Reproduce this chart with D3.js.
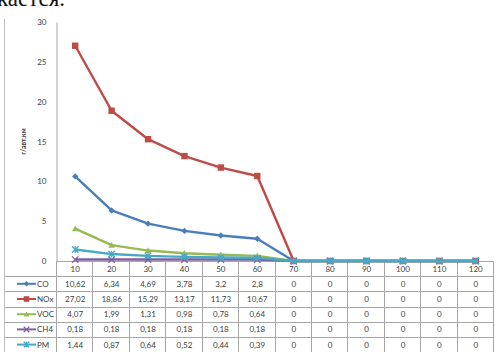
<!DOCTYPE html>
<html>
<head>
<meta charset="utf-8">
<script src="https://cdn.jsdelivr.net/npm/d3@7"></script>
<style>
  html, body { margin: 0; padding: 0; background: #fff; }
  svg { display: block; }
</style>
</head>
<body>
<svg id="chart" width="496" height="352"></svg>
<script>
// Speed categories (km/h) and emission factors, г/авт.км
const categories = [10, 20, 30, 40, 50, 60, 70, 80, 90, 100, 110, 120];
const seriesNames = ["CO", "NOx", "VOC", "CH4", "PM"];
const coValues  = [10.62, 6.34, 4.69, 3.78, 3.2, 2.8, 0, 0, 0, 0, 0, 0];
const noxValues = [27.02, 18.86, 15.29, 13.17, 11.73, 10.67, 0, 0, 0, 0, 0, 0];
const vocValues = [4.07, 1.99, 1.31, 0.98, 0.78, 0.64, 0, 0, 0, 0, 0, 0];
const ch4Values = [0.18, 0.18, 0.18, 0.18, 0.18, 0.18, 0, 0, 0, 0, 0, 0];
const pmValues  = [1.44, 0.87, 0.64, 0.52, 0.44, 0.39, 0, 0, 0, 0, 0, 0];
const yTicks = [0, 5, 10, 15, 20, 25, 30];
const yTitle = "г/авт.км";
const headText = "кается.";

const colors = ["#4a7ebb", "#be4b48", "#98b954", "#7d60a0", "#46aac5"];
const markers = ["diamond", "square", "triangle", "cross", "star"];
const seriesValues = [coValues, noxValues, vocValues, ch4Values, pmValues];

const series = seriesNames.map((name, i) => ({
  name, color: colors[i], marker: markers[i], values: seriesValues[i]
}));

const svg = d3.select("#chart");
const font = "Lato, 'Open Sans', sans-serif";
const textColor = "#404040";
const gridColor = "#a6a6a6";

// heading text of the page, clipped by the top edge
svg.append("text")
  .attr("x", -3).attr("y", 6)
  .attr("font-family", "'Liberation Serif', 'DejaVu Serif', serif")
  .attr("font-size", 23)
  .attr("fill", "#111")
  .text(headText);

const plot = { left: 57, right: 494, top: 22, bottom: 261 };
const frameLeft = 4.5;

const x = d3.scaleBand().domain(categories).range([plot.left, plot.right]);
const y = d3.scaleLinear().domain([0, 30]).range([plot.bottom, plot.top]);

// outer frame (left edge)
svg.append("line")
  .attr("x1", frameLeft).attr("x2", frameLeft)
  .attr("y1", 19).attr("y2", 352)
  .attr("stroke", "#bfbfbf").attr("stroke-width", 1);

// y axis
const yAxis = d3.axisLeft(y).tickValues(yTicks).tickSize(0).tickPadding(10);
const gy = svg.append("g").attr("transform", `translate(${plot.left - 0.5},0)`).call(yAxis);
gy.select(".domain").attr("stroke", gridColor);
gy.selectAll("text")
  .attr("font-family", font).attr("font-size", 8).attr("fill", textColor);

// y axis title
svg.append("text")
  .attr("transform", `translate(26,${(plot.top + plot.bottom) / 2}) rotate(-90)`)
  .attr("text-anchor", "middle")
  .attr("font-family", font).attr("font-size", 7).attr("font-weight", "bold")
  .attr("fill", textColor)
  .text(yTitle);

// data table under the plot
const rowH = 15.2;
const tableTop = plot.bottom;
const nRows = series.length + 1;
const tbl = svg.append("g");

// horizontal rules
for (let r = 0; r <= nRows; r++) {
  const yy = Math.round(tableTop + r * rowH) + 0.5;
  tbl.append("line")
    .attr("x1", r === 0 ? plot.left : frameLeft).attr("x2", plot.right)
    .attr("y1", yy).attr("y2", yy)
    .attr("stroke", gridColor).attr("stroke-width", 1);
}
// vertical rules at category boundaries
const bounds = categories.map(c => x(c)).concat([plot.right]);
bounds.forEach(bx => {
  tbl.append("line")
    .attr("x1", Math.round(bx) - 0.5).attr("x2", Math.round(bx) - 0.5)
    .attr("y1", tableTop).attr("y2", 352)
    .attr("stroke", gridColor).attr("stroke-width", 1);
});

// header row: category labels
tbl.selectAll("text.cat").data(categories).join("text")
  .attr("class", "cat")
  .attr("x", d => x(d) + x.bandwidth() / 2)
  .attr("y", tableTop + rowH / 2 + 3)
  .attr("text-anchor", "middle")
  .attr("font-family", font).attr("font-size", 8).attr("fill", textColor)
  .text(d => d);

const fmt = v => String(v).replace(".", ",");

function drawMarker(g, type, cx, cy, color, s) {
  if (type === "diamond") {
    g.append("path")
      .attr("d", `M${cx},${cy - s}L${cx + s},${cy}L${cx},${cy + s}L${cx - s},${cy}Z`)
      .attr("fill", color);
  } else if (type === "square") {
    g.append("rect")
      .attr("x", cx - s).attr("y", cy - s).attr("width", 2 * s).attr("height", 2 * s)
      .attr("fill", color);
  } else if (type === "triangle") {
    g.append("path")
      .attr("d", `M${cx},${cy - s}L${cx + s},${cy + s * 0.8}L${cx - s},${cy + s * 0.8}Z`)
      .attr("fill", color);
  } else if (type === "cross") {
    g.append("path")
      .attr("d", `M${cx - s},${cy - s}L${cx + s},${cy + s}M${cx - s},${cy + s}L${cx + s},${cy - s}`)
      .attr("stroke", color).attr("stroke-width", 1.3).attr("fill", "none");
  } else if (type === "star") {
    g.append("path")
      .attr("d", `M${cx - s},${cy - s}L${cx + s},${cy + s}M${cx - s},${cy + s}L${cx + s},${cy - s}M${cx},${cy - s}L${cx},${cy + s}`)
      .attr("stroke", color).attr("stroke-width", 1.3).attr("fill", "none");
  }
}

// series rows: legend key + values
series.forEach((s, i) => {
  const rowMid = tableTop + (i + 1.5) * rowH;
  const key = tbl.append("g");
  key.append("line")
    .attr("x1", 17).attr("x2", 36)
    .attr("y1", rowMid).attr("y2", rowMid)
    .attr("stroke", s.color).attr("stroke-width", 2);
  drawMarker(key, s.marker, 26.5, rowMid, s.color, 2.8);
  tbl.append("text")
    .attr("x", 37).attr("y", rowMid + 3)
    .attr("font-family", font).attr("font-size", 8).attr("fill", textColor)
    .text(s.name);
  tbl.selectAll(null).data(s.values).join("text")
    .attr("x", (d, j) => x(categories[j]) + x.bandwidth() / 2)
    .attr("y", rowMid + 3)
    .attr("text-anchor", "middle")
    .attr("font-family", font).attr("font-size", 8).attr("fill", textColor)
    .text(d => fmt(d));
});

// x axis line
svg.append("line")
  .attr("x1", plot.left).attr("x2", plot.right)
  .attr("y1", plot.bottom + 0.5).attr("y2", plot.bottom + 0.5)
  .attr("stroke", gridColor);

// lines and markers
const line = d3.line()
  .x((d, j) => x(categories[j]) + x.bandwidth() / 2)
  .y(d => y(d));

const lines = svg.append("g");
series.forEach(s => {
  const g = lines.append("g");
  g.append("path")
    .datum(s.values)
    .attr("d", line)
    .attr("fill", "none")
    .attr("stroke", s.color)
    .attr("stroke-width", 2.4)
    .attr("stroke-linejoin", "round");
  s.values.forEach((v, j) => {
    drawMarker(g, s.marker, x(categories[j]) + x.bandwidth() / 2, y(v), s.color, 3.2);
  });
});
</script>
</body>
</html>
